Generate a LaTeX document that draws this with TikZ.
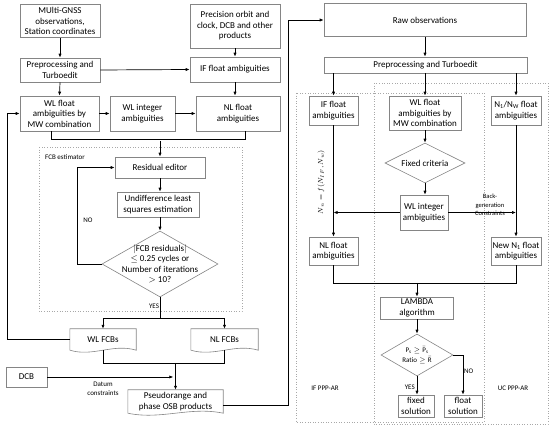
\documentclass[tikz,border=0pt]{standalone}
\usepackage{fontspec}
\setmainfont{Carlito}
\usetikzlibrary{arrows.meta,shapes.geometric,calc}
\definecolor{boxgray}{HTML}{858585}
\definecolor{framegray}{HTML}{A8A8A8}
\tikzset{
  box/.style={draw=boxgray, line width=0.6pt, fill=white, align=center,
    font=\fontsize{9}{10.5}\selectfont, inner sep=1pt},
  doc/.style={align=center, font=\fontsize{9}{10.5}\selectfont, inner sep=1pt},
  txt/.style={align=center, font=\fontsize{9}{10.5}\selectfont, inner sep=0pt},
  dia/.style={diamond, draw=boxgray, line width=0.6pt, fill=white, inner sep=0pt},
  small/.style={align=center, font=\fontsize{7}{8.5}\selectfont, inner sep=0pt},
  arr/.style={-{Latex[length=4pt,width=3.2pt]}, line width=0.7pt},
  ln/.style={line width=0.7pt},
  frame/.style={draw=framegray, dotted, line width=0.6pt},
  docline/.style={draw=boxgray, line width=0.6pt}
}
\newcommand\docshape[1]{%
  \draw[docline] (#1.north west) -- (#1.north east) -- (#1.south east)
   .. controls ($(#1.south east)!0.35!(#1.south west)+(0,-7)$) and ($(#1.south west)!0.35!(#1.south east)+(0,7)$) .. (#1.south west) -- cycle;}
\begin{document}
\begin{tikzpicture}[x=1pt,y=-1pt]
\useasboundingbox (0,0) rectangle (550,435);

% dotted containers
\draw[frame] (39,147) rectangle (242,311);
\draw[frame] (296,93) rectangle (484,422);
\draw[frame] (374,83) rectangle (548,424);

% ---------------- left part ----------------
\node[box, minimum width=80pt, minimum height=33pt] (gnss) at (60,21) {MUlti-GNSS\\observations,\\Station coordinates};
\node[box, minimum width=80pt, minimum height=24pt] (pre1) at (60,70) {Preprocessing and\\Turboedit};
\node[box, minimum width=90pt, minimum height=44pt] (prec) at (235,26) {Precision orbit and\\clock, DCB and other\\products};
\node[box, minimum width=90pt, minimum height=25pt] (if1) at (235,69.5) {IF float ambiguities};
\node[box, minimum width=79pt, minimum height=35pt] (wlf) at (59.5,113.5) {WL float\\ambiguities by\\MW combination};
\node[box, minimum width=65pt, minimum height=35pt] (wli) at (142.5,113.5) {WL integer\\ambiguities};
\node[box, minimum width=84pt, minimum height=35pt] (nlf) at (238,113.5) {NL float\\ambiguities};

\node[small, anchor=west] (fcbl) at (45,157) {FCB estimator};
\node[box, minimum width=90pt, minimum height=21pt] (res) at (160,167.5) {Residual editor};
\node[box, minimum width=82pt, minimum height=25pt] (und) at (158,204.5) {Undifference least\\squares estimation};
\node[dia, minimum width=116pt, minimum height=66pt] (dia) at (160,264) {};
\node[txt] (diat) at (dia) {$|$FCB residuals$|$\\$\leq$ 0.25 cycles or\\Number of iterations\\$>$ 10?};
\node[small] (no1) at (88,220) {NO};
\node[small] (yes1) at (154,306) {YES};

\node[doc, minimum width=66pt, minimum height=21pt] (wlfcb) at (103,339.5) {WL FCBs};
\node[doc, minimum width=67pt, minimum height=21pt] (nlfcb) at (224.5,339.5) {NL FCBs};
\docshape{wlfcb}
\docshape{nlfcb}
\node[box, minimum width=41pt, minimum height=20pt] (dcb) at (26.5,377) {DCB};
\node[small] (datum) at (103,389) {Datum\\constraints};
\node[doc, minimum width=95pt, minimum height=23pt] (pse) at (175.5,401.5) {Pseudorange and\\phase OSB products};
\docshape{pse}

% ---------------- right part ----------------
\node[box, minimum width=202pt, minimum height=33pt] (raw) at (425,20) {Raw observations};
\node[box, minimum width=203pt, minimum height=16pt] (pre2) at (425.5,65) {Preprocessing and Turboedit};
\node[box, minimum width=49pt, minimum height=29pt] (iff) at (333.5,110.5) {IF float\\ambiguities};
\node[box, minimum width=72pt, minimum height=34pt] (wlf2) at (425,113) {WL float\\ambiguities by\\MW combination};
\node[box, minimum width=50pt, minimum height=29pt] (n1) at (516,110.5) {N\textsubscript{1}/N\textsubscript{W} float\\ambiguities};
\node[dia, minimum width=80pt, minimum height=40pt] (fc) at (425,163) {};
\node[txt] (fct) at (fc) {Fixed criteria};
\node[box, minimum width=48pt, minimum height=35pt] (wli2) at (424,212.5) {WL integer\\ambiguities};
\node[small, rotate=90] (form) at (321,182) {$N_n=f(N_{IF},N_w)$};
\node[small, font=\fontsize{6.5}{8.5}\selectfont] (back) at (490,205) {Back-\\generation\\Constraints};
\node[box, minimum width=49pt, minimum height=28pt] (nlf2) at (333.5,251) {NL float\\ambiguities};
\node[box, minimum width=50pt, minimum height=28pt] (new1) at (516,251) {New N\textsubscript{1} float\\ambiguities};
\node[box, minimum width=73pt, minimum height=22pt] (lam) at (417,308) {LAMBDA\\algorithm};
\node[dia, minimum width=72pt, minimum height=42pt] (dia2) at (417,355) {};
\node[txt, font=\fontsize{7}{10}\selectfont] (dia2t) at (dia2) {$\mathrm{P_s}\geq\bar{\mathrm{P}}_\mathrm{s}$\\$\mathrm{Ratio}\geq\bar{\mathrm{R}}$};
\node[box, minimum width=36pt, minimum height=22pt] (fix) at (416,406) {fixed\\solution};
\node[box, minimum width=38pt, minimum height=22pt] (flo) at (463,406) {float\\solution};
\node[small, anchor=east] (yes2) at (415,387) {YES};
\node[small, anchor=west] (no2) at (464,371) {NO};
\node[small] (ifp) at (325,388) {IF PPP-AR};
\node[small] (ucp) at (513,388) {UC PPP-AR};

% connectors left
\draw[arr] (gnss.south) -- (pre1.north);
\draw[arr] (pre1.east) -- (if1.west);
\draw[arr] (prec.south) -- (if1.north);
\draw[arr] (if1.south) -- (if1.south |- nlf.north);
\draw[arr] (pre1.south) -- (wlf.north);
\draw[arr] (wlf.east) -- (wli.west);
\draw[arr] (wli.east) -- (nlf.west);
\draw[ln] ([xshift=-8pt]wlf.south) -- ++(0,8) -| ([xshift=7pt]nlf.south);
\coordinate (j1) at (160,141.5);
\draw[arr] (j1) -- (res.north);
\draw[arr] (res.south) -- (res.south |- und.north);
\draw[arr] (res.south |- und.south) -- (dia.north);
\draw[arr] (dia.west) -- ++(-24,0) |- (res.west);
\coordinate (s1) at (160,318);
\draw[ln] (dia.south) -- (s1);
\draw[arr] (s1) -| (wlfcb.north);
\draw[arr] (s1) -| (nlfcb.north);
\draw[arr] (wlfcb.west) -- ++(-62,0) |- (wlf.west);
\draw[ln] (wlfcb.south) -- ++(0,13) -| (nlfcb.south);
\coordinate (m2) at (175.5,363);
\draw[arr] (m2) -- (pse.north);
\draw[arr] (dcb.east) -- ++(126,0);
\draw[arr] ([yshift=-4pt]pse.east) -- ++(65,0) |- (raw.west);

% connectors right
\draw[arr] (raw.south) -- (raw.south |- pre2.north);
\draw[arr] (pre2.south -| iff.north) -- (iff.north);
\draw[arr] (pre2.south -| wlf2.north) -- (wlf2.north);
\draw[arr] (pre2.south -| n1.north) -- (n1.north);
\draw[arr] (wlf2.south) -- (fc.north);
\draw[arr] (fc.south) -- (fc.south |- wli2.north);
\draw[arr] (wli2.west) -- (wli2.west -| iff.south);
\draw[arr] (wli2.east) -- (wli2.east -| n1.south);
\draw[arr] (iff.south) -- (nlf2.north);
\draw[arr] (n1.south) -- (new1.north);
\draw[ln] (nlf2.south) -- ++(0,18) -| (new1.south);
\coordinate (m3) at (417,283);
\draw[arr] (m3) -- (lam.north);
\draw[arr] (lam.south) -- (dia2.north);
\draw[arr] (dia2.south) -- (dia2.south |- fix.north);
\draw[arr] (dia2.east) -| (flo.north);
\end{tikzpicture}
\end{document}
